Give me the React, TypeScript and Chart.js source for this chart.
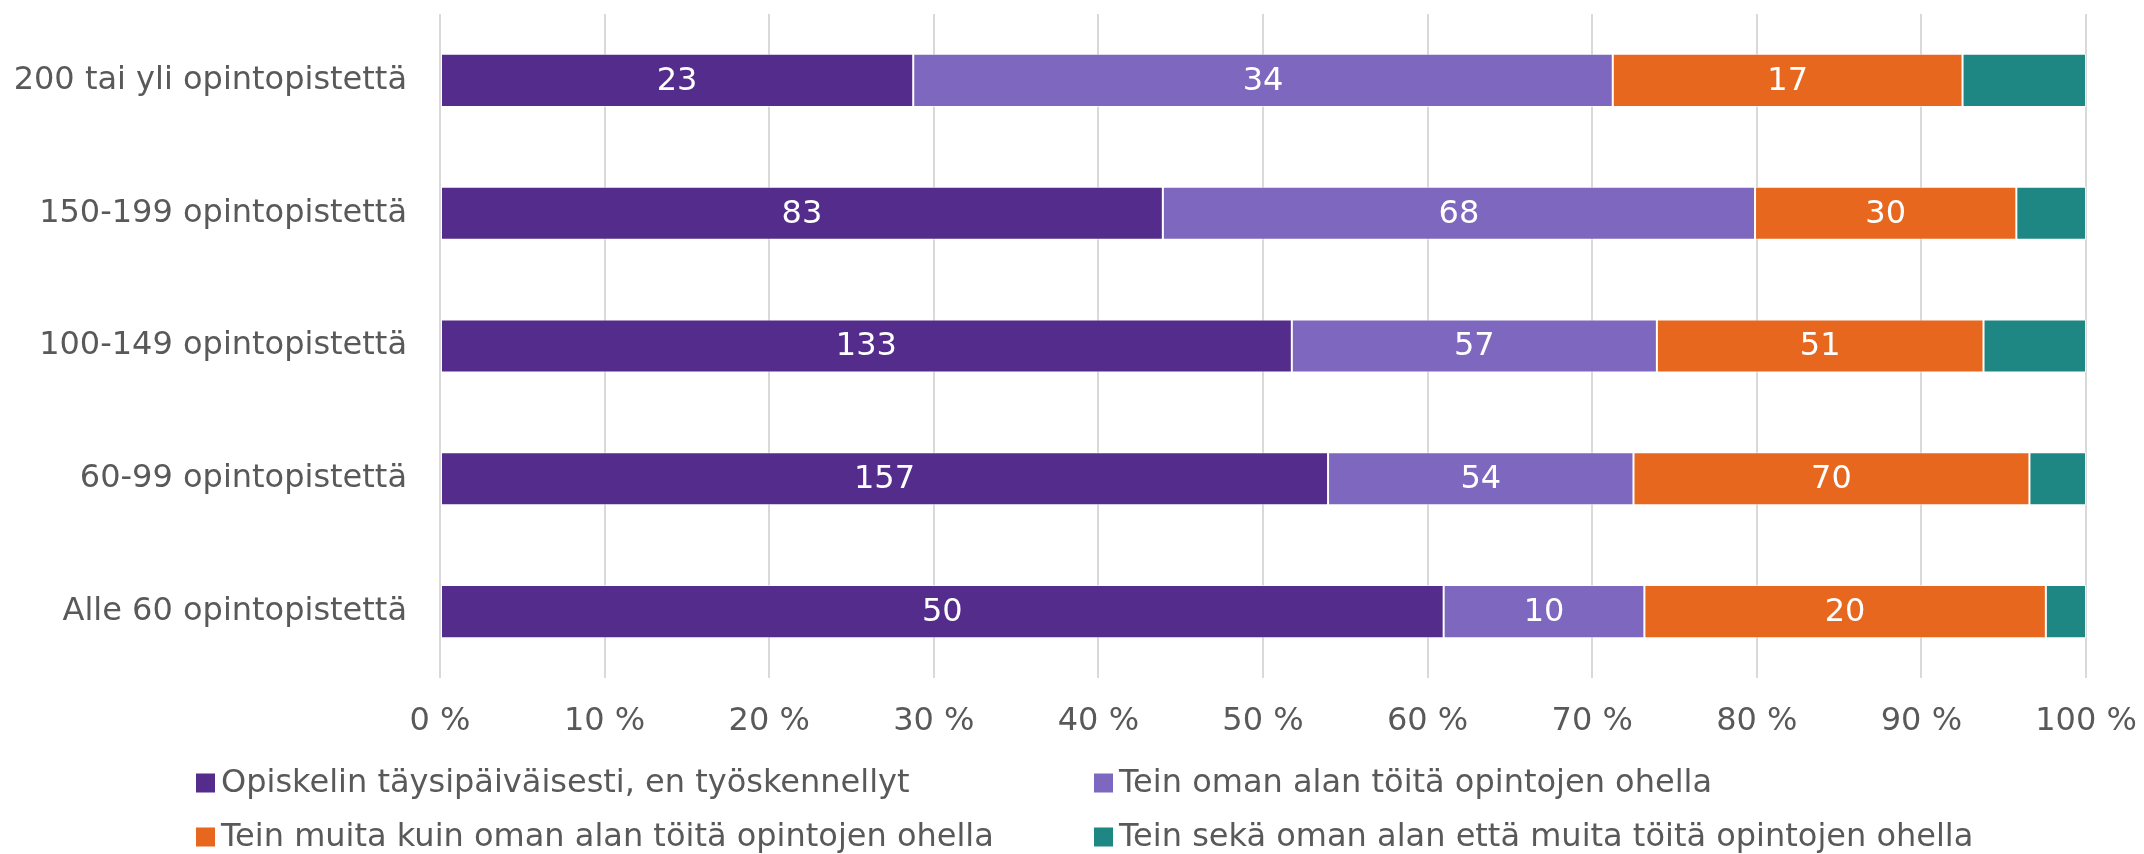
import React, { useEffect, useRef } from "react";
import { Chart, registerables } from "chart.js";

Chart.register(...registerables);

const categories = [
  "200 tai yli opintopistettä",
  "150-199 opintopistettä",
  "100-149 opintopistettä",
  "60-99 opintopistettä",
  "Alle 60 opintopistettä",
];
const fullTime = [23, 83, 133, 157, 50];
const ownField = [34, 68, 57, 54, 10];
const otherWork = [17, 30, 51, 70, 20];
const bothWork = [6, 8, 16, 10, 2];
const seriesNames = [
  "Opiskelin täysipäiväisesti, en työskennellyt",
  "Tein oman alan töitä opintojen ohella",
  "Tein muita kuin oman alan töitä opintojen ohella",
  "Tein sekä oman alan että muita töitä opintojen ohella",
];
const seriesColors = ["#542C8B", "#7E67BE", "#E8671F", "#1E8784"];
const labeledSeries = [true, true, true, false];
const xTickValues = [0, 10, 20, 30, 40, 50, 60, 70, 80, 90, 100];

const FONT = "'DejaVu Sans', Verdana, sans-serif";
const FONT_SIZE = 32;
const TEXT_COLOR = "#595959";

export default function App() {
  const canvasRef = useRef<HTMLCanvasElement | null>(null);

  useEffect(() => {
    document.body.style.margin = "0";
    const canvas = canvasRef.current;
    if (!canvas) return;

    const counts = [fullTime, ownField, otherWork, bothWork];
    const totals = categories.map((_, i) => counts.reduce((s, arr) => s + arr[i], 0));
    const pct = counts.map((arr) => arr.map((v, i) => (v / totals[i]) * 100));

    const dataLabels = {
      id: "dataLabels",
      afterDatasetsDraw(chart: any) {
        const ctx = chart.ctx;
        ctx.save();
        ctx.font = `${FONT_SIZE}px ${FONT}`;
        ctx.fillStyle = "#ffffff";
        ctx.textAlign = "center";
        ctx.textBaseline = "middle";
        chart.data.datasets.forEach((ds: any, di: number) => {
          if (!labeledSeries[di]) return;
          const meta = chart.getDatasetMeta(di);
          meta.data.forEach((el: any, i: number) => {
            const p = el.getProps(["x", "y", "base"], true);
            ctx.fillText(String(counts[di][i]), (p.x + p.base) / 2, p.y + 1);
          });
        });
        ctx.restore();
      },
    };

    const gridLegend = {
      id: "gridLegend",
      afterDraw(chart: any) {
        const ctx = chart.ctx;
        const colX = [196, 1094];
        const rowY = [783, 837];
        const box = 19;
        ctx.save();
        ctx.font = `${FONT_SIZE}px ${FONT}`;
        ctx.textBaseline = "middle";
        ctx.textAlign = "left";
        chart.data.datasets.forEach((ds: any, i: number) => {
          const x = colX[i % 2];
          const y = rowY[Math.floor(i / 2)];
          ctx.fillStyle = ds.backgroundColor;
          ctx.fillRect(x, y - box / 2, box, box);
          ctx.fillStyle = TEXT_COLOR;
          ctx.fillText(ds.label, x + box + 6, y + 1);
        });
        ctx.restore();
      },
    };

    const chart = new Chart(canvas, {
      type: "bar",
      data: {
        labels: categories,
        datasets: seriesNames.map((name, i) => ({
          label: name,
          data: pct[i],
          backgroundColor: seriesColors[i],
          borderColor: "rgba(255,255,255,0.6)",
          borderWidth: 1,
          borderSkipped: false,
          barPercentage: 0.4,
          categoryPercentage: 1,
        })),
      },
      options: {
        indexAxis: "y",
        responsive: false,
        animation: false,
        devicePixelRatio: 1,
        layout: { padding: { top: 14, right: 58, bottom: 114, left: 0 } },
        plugins: {
          legend: { display: false },
          tooltip: { enabled: false },
        },
        scales: {
          x: {
            stacked: true,
            min: 0,
            max: 100,
            afterBuildTicks(scale: any) {
              scale.ticks = xTickValues.map((v) => ({ value: v }));
            },
            afterFit(scale: any) {
              scale.height = 62;
              scale.paddingLeft = 0;
              scale.paddingRight = 0;
              scale.paddingTop = 0;
              scale.paddingBottom = 0;
            },
            grid: { color: "#D9D9D9", lineWidth: 2, drawTicks: false },
            border: { display: false },
            ticks: {
              padding: 24,
              color: TEXT_COLOR,
              font: { family: FONT, size: FONT_SIZE },
              maxRotation: 0,
              callback: (v: any) => `${v} %`,
            },
          },
          y: {
            stacked: true,
            afterFit(scale: any) {
              scale.width = 440;
              scale.paddingLeft = 0;
              scale.paddingRight = 0;
              scale.paddingTop = 0;
              scale.paddingBottom = 0;
            },
            grid: { display: false, drawTicks: false },
            border: { display: false },
            ticks: {
              padding: 33,
              color: TEXT_COLOR,
              font: { family: FONT, size: FONT_SIZE },
            },
          },
        },
      },
      plugins: [dataLabels, gridLegend],
    });

    return () => chart.destroy();
  }, []);

  return (
    <canvas
      ref={canvasRef}
      width={2144}
      height={854}
      style={{ display: "block", width: 2144, height: 854 }}
    />
  );
}
